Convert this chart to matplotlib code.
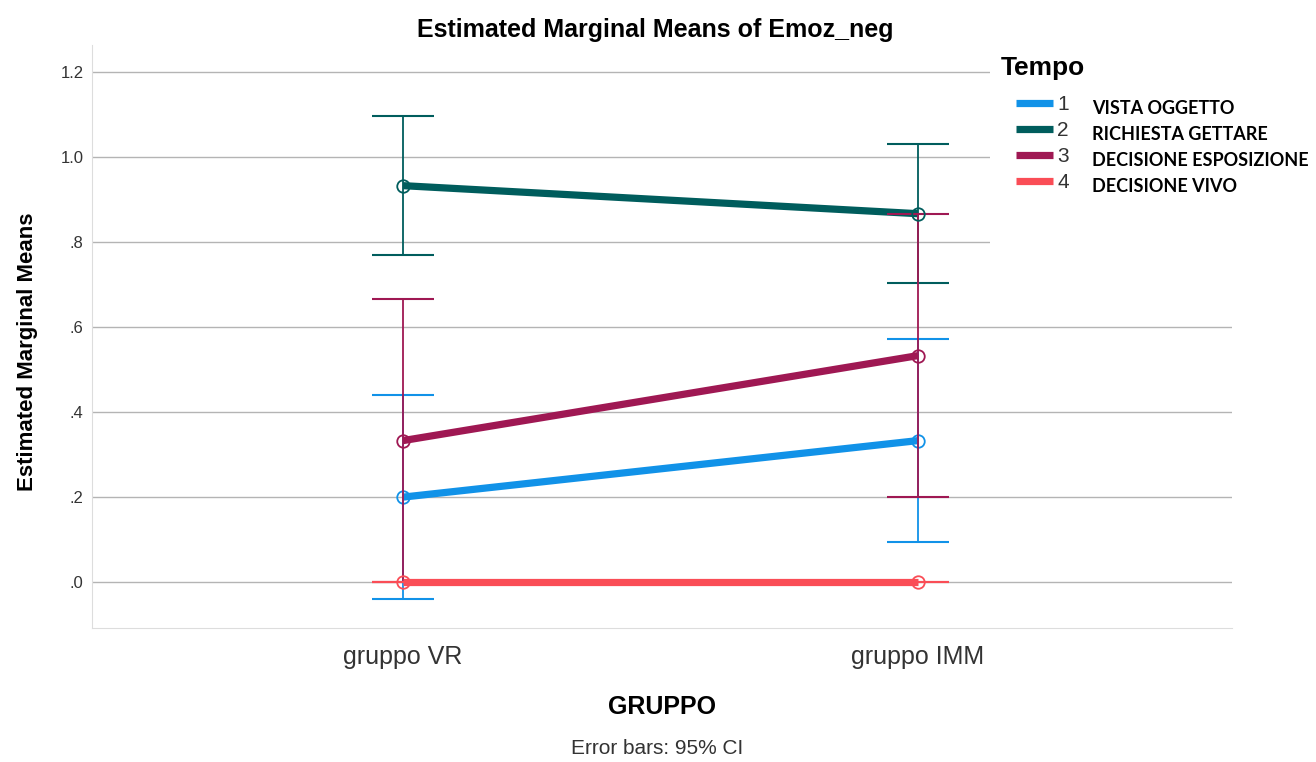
import matplotlib
matplotlib.use("Agg")
import matplotlib.pyplot as plt
from matplotlib.lines import Line2D
from matplotlib.patches import Rectangle

groups = ["gruppo VR", "gruppo IMM"]
series_names = ["1", "2", "3", "4"]
series_desc = ["VISTA OGGETTO", "RICHIESTA GETTARE", "DECISIONE ESPOSIZIONE", "DECISIONE VIVO"]
means = [
    [0.200, 0.333],
    [0.933, 0.867],
    [0.333, 0.533],
    [0.000, 0.000],
]
ci_low = [
    [-0.040, 0.095],
    [0.770, 0.703],
    [0.000, 0.200],
    [0.000, 0.000],
]
ci_high = [
    [0.440, 0.573],
    [1.097, 1.030],
    [0.667, 0.867],
    [0.000, 0.000],
]
colors = ["#1192e8", "#005d5d", "#9f1853", "#fa4d56"]
yticks = [0.0, 0.2, 0.4, 0.6, 0.8, 1.0, 1.2]
ytick_labels = [".0", ".2", ".4", ".6", ".8", "1.0", "1.2"]

plt.rcParams['font.family'] = ['Liberation Sans', 'DejaVu Sans']

fig = plt.figure(figsize=(13.16, 7.62), dpi=100)
ax = fig.add_axes([92/1316, 1 - 628/762, (1232-92)/1316, (628-45)/762])

xs = list(range(len(groups)))
for i in range(len(series_names)):
    m = means[i]
    lo = [m[j] - ci_low[i][j] for j in range(2)]
    hi = [ci_high[i][j] - m[j] for j in range(2)]
    ax.errorbar(xs, m, yerr=[lo, hi], fmt='none', ecolor=colors[i],
                elinewidth=1.3, capsize=22, capthick=1.5, zorder=3 + i)
    ax.plot(xs, m, color=colors[i], lw=5.2, solid_capstyle='butt', zorder=4 + i)
    ax.plot(xs, m, 'o', mec=colors[i], ms=9, mew=1.3, zorder=5 + i,
            fillstyle='none')

ax.set_xlim(-0.604, 1.61)
ax.set_ylim(-0.108, 1.264)
ax.set_yticks(yticks)
ax.set_yticklabels(ytick_labels, fontsize=12, color='#333333')
ax.set_xticks(xs)
ax.set_xticklabels(groups, fontsize=18, color='#333333')
ax.tick_params(axis='y', length=0, pad=6)
ax.tick_params(axis='x', length=0, pad=12)
ax.grid(axis='y', color='#b4b4b4', lw=1)
ax.set_axisbelow(True)
for s in ['top', 'right']:
    ax.spines[s].set_visible(False)
for s in ['left', 'bottom']:
    ax.spines[s].set_color('#dddddd')

ax.set_ylabel("Estimated Marginal Means", fontsize=16, fontweight='bold')
ax.yaxis.set_label_coords(-0.047, 0.473)
ax.set_xlabel("GRUPPO", fontsize=18, fontweight='bold', labelpad=19)
fig.text(655/1316, 1 - 30/762, "Estimated Marginal Means of Emoz_neg", fontsize=18,
         fontweight='bold', ha='center', va='center')
fig.text(657/1316, 1 - 748/762, "Error bars: 95% CI", fontsize=15, ha='center', va='center',
         color='#333333')

# legend background and entries
fig.patches.append(Rectangle((990/1316, 1 - 250/762), 326/1316, 205/762,
                             transform=fig.transFigure, facecolor='white', edgecolor='none', zorder=10))
fig.text(1001/1316, 1 - 68/762, "Tempo", fontsize=19, fontweight='bold', ha='left', va='center', zorder=11)
line_y = [103, 129, 155, 181]
text_y = [109, 135, 160, 186]
for i in range(4):
    y = 1 - line_y[i]/762
    fig.add_artist(Line2D([1016/1316, 1053/1316], [y, y], transform=fig.transFigure,
                          color=colors[i], lw=5.2, solid_capstyle='butt', zorder=11))
    fig.text(1057/1316, y - 1/762, series_names[i], fontsize=15, ha='left', va='center',
             color='#333333', zorder=11)
    fig.text(1092/1316, 1 - text_y[i]/762, series_desc[i], fontsize=13, fontweight='bold',
             family=['Lato', 'DejaVu Sans'], ha='left', va='center', zorder=11)

fig.savefig("out.png", dpi=100)
